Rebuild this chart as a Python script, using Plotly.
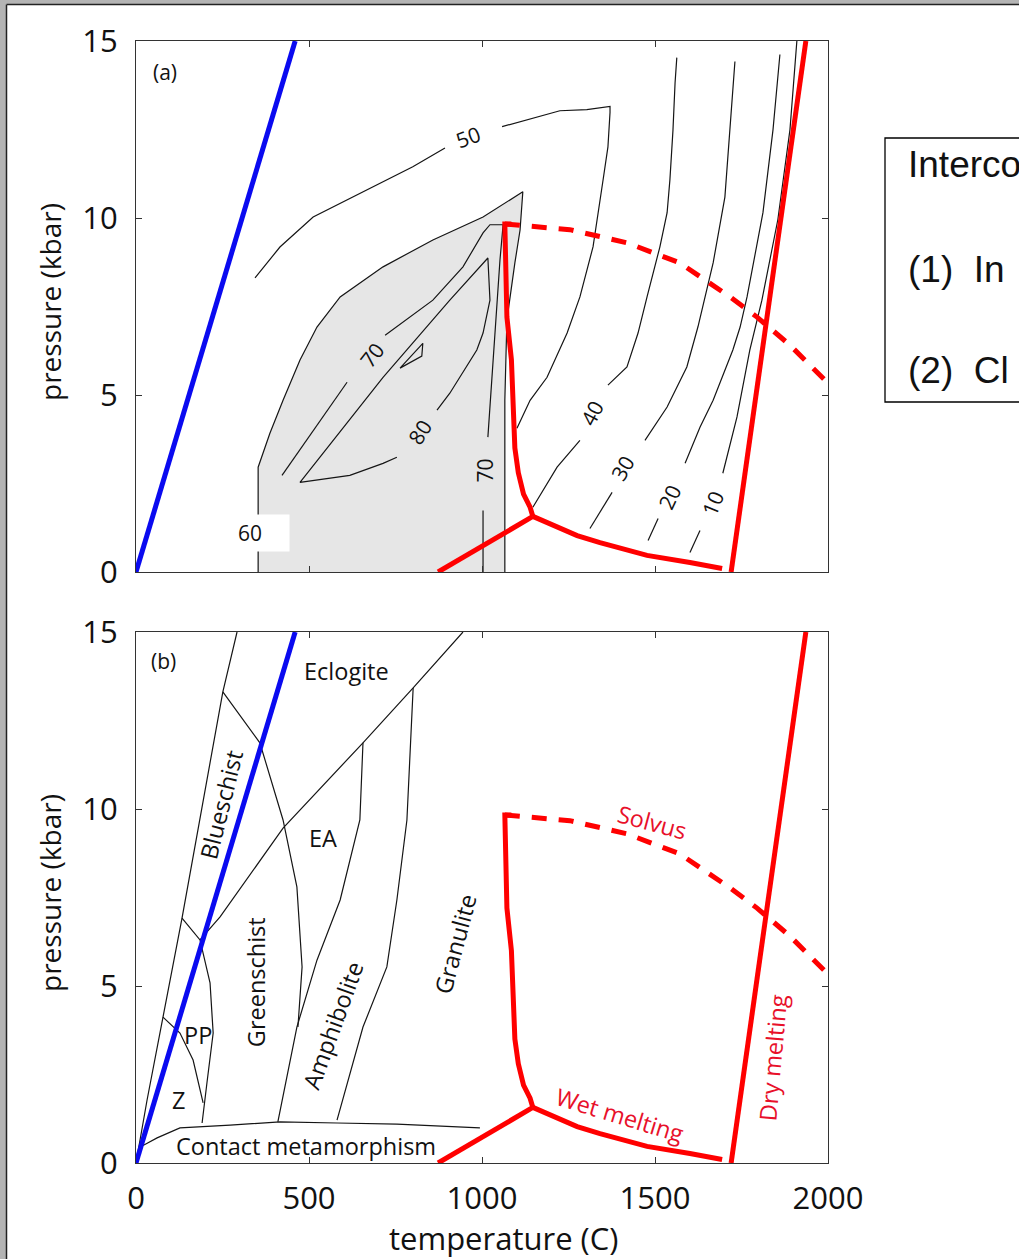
import plotly.graph_objects as go

# ---------------- data ----------------
T_TICKS = [0, 500, 1000, 1500, 2000]
P_TICKS = [0, 5, 10, 15]

# geotherm (blue)
geo_T = [0, 460]
geo_P = [0, 15]

# dry melting (red)
dry_T = [1720, 1936]
dry_P = [0, 15]

# wet melting, low-T branch below triple point
wetlow_T = [873, 1147]
wetlow_P = [0, 1.57]
# wet solidus rising from triple point
wetup_T = [1147, 1139, 1120, 1105, 1095, 1090, 1085, 1072, 1068, 1066, 1085]
wetup_P = [1.57, 1.83, 2.2, 2.8, 3.5, 4.5, 6.0, 7.2, 8.5, 9.83, 9.83]
# wet melting, high-T branch
wethi_T = [1147, 1275, 1341, 1477, 1601, 1694]
wethi_P = [1.57, 1.03, 0.83, 0.47, 0.27, 0.10]
# solvus (dashed)
solvus_T = [1066, 1254, 1419, 1572, 1717, 1795, 1890, 1991]
solvus_P = [9.83, 9.67, 9.30, 8.73, 7.77, 7.20, 6.41, 5.42]

# panel (a): shaded region bounded by the 60 contour
gray_T = [353, 353, 387, 425, 474, 523, 590, 714, 858, 1003, 1118, 1110, 1095, 1072, 1066, 1066]
gray_P = [0, 2.96, 3.92, 4.85, 5.99, 6.92, 7.77, 8.62, 9.38, 10.03, 10.74, 9.66, 8.73, 7.12, 4.85, 0]

# panel (a): contour segments (split at labels)
c50a_T = [344, 416, 512, 610, 705, 800, 893]
c50a_P = [8.31, 9.18, 10.03, 10.51, 10.99, 11.45, 11.98]
c50b_T = [1058, 1225, 1303, 1370, 1370, 1364, 1350, 1335, 1321, 1283, 1246, 1188, 1139, 1101]
c50b_P = [12.58, 13.03, 13.06, 13.15, 12.98, 12.01, 11.08, 10.15, 9.19, 7.77, 6.75, 5.50, 4.85, 4.06]
c40a_T = [1563, 1558, 1552, 1543, 1535, 1514, 1477, 1451, 1419, 1364]
c40a_P = [14.53, 13.82, 12.49, 11.07, 10.15, 9.18, 7.77, 6.75, 5.79, 5.28]
c40b_T = [1283, 1217, 1147]
c40b_P = [3.72, 2.96, 1.83]
c30a_T = [1731, 1717, 1702, 1668, 1624, 1592, 1535, 1471]
c30a_P = [14.42, 12.49, 10.59, 8.73, 6.92, 5.79, 4.66, 3.72]
c30b_T = [1376, 1312]
c30b_P = [2.25, 1.23]
c20a_T = [1861, 1841, 1812, 1766, 1746, 1725, 1668, 1630, 1587]
c20a_P = [14.62, 12.49, 10.15, 7.77, 6.92, 6.27, 4.85, 4.09, 3.07]
c20b_T = [1509, 1480]
c20b_P = [1.51, 0.89]
c10a_T = [1910, 1890, 1855, 1809, 1774, 1737, 1696]
c10a_P = [15.0, 12.49, 9.95, 7.68, 6.27, 4.38, 2.79]
c10b_T = [1630, 1601]
c10b_P = [1.17, 0.55]
c70a_T = [422, 610]
c70a_P = [2.73, 5.36]
c70b_T = [720, 858, 945, 1003, 1023, 1061, 1052, 1040, 1023, 1017]
c70b_P = [6.69, 7.68, 8.62, 9.58, 9.81, 9.81, 8.82, 7.12, 4.85, 3.81]
c70c_T = [1003, 1003]
c70c_P = [1.74, 0]
c80_T = [870, 907, 985, 1003, 1023, 1017, 907, 714, 474, 618, 714, 754]
c80_P = [4.57, 5.05, 6.27, 6.75, 7.68, 8.87, 7.68, 5.50, 2.53, 2.73, 3.07, 3.24]
csmall_T = [763, 829, 826, 763]
csmall_P = [5.76, 6.46, 6.10, 5.76]

contour_labels = ["50", "40", "30", "20", "10", "70", "80", "70", "60"]
contour_lab_T = [960, 1318, 1407, 1543, 1668, 682, 821, 1009, 367]
contour_lab_P = [12.30, 4.49, 2.93, 2.11, 1.94, 6.13, 3.95, 2.87, 1.09]
contour_lab_ang = [-20, -62, -60, -65, -68, -52, -58, -90, 0]

# panel (b): facies boundaries
bsleft_T = [0, 32, 78, 133, 251, 292]
bsleft_P = [0, 1.78, 4.12, 6.92, 13.31, 15.0]
bsecl_T = [251, 358, 425, 465, 480, 468]
bsecl_P = [13.31, 11.87, 9.69, 7.80, 5.54, 3.84]
diag_T = [185, 243, 425, 656, 801, 945]
diag_P = [6.30, 6.95, 9.46, 11.87, 13.42, 15.0]
ppgs_T = [133, 185, 214, 223, 205, 191]
ppgs_P = [6.92, 6.30, 5.09, 3.67, 2.26, 1.13]
ppz_T = [78, 127, 165, 194]
ppz_P = [4.12, 3.67, 2.91, 1.70]
contact_T = [0, 12, 61, 127, 272, 416, 581, 754, 994]
contact_P = [0, 0.45, 0.71, 0.99, 1.07, 1.16, 1.13, 1.10, 0.99]
amphL_T = [410, 465, 523, 590, 647, 656]
amphL_P = [1.16, 3.84, 5.73, 7.43, 9.69, 11.87]
amphR_T = [581, 656, 725, 754, 783, 801]
amphR_P = [1.21, 3.84, 5.54, 7.43, 9.69, 13.42]

facies_labels = ["Eclogite", "Blueschist", "EA", "Greenschist", "PP", "Z",
                 "Amphibolite", "Granulite", "Contact metamorphism"]
facies_T = [607, 246, 540, 347, 179, 124, 569, 922, 491]
facies_P = [13.9, 10.11, 9.18, 5.11, 3.62, 1.78, 3.90, 6.19, 0.48]
facies_ang = [0, -76, 0, -90, 0, 0, -70, -75, 0]

melt_labels = ["Solvus", "Wet melting", "Dry melting"]
melt_T = [1491, 1399, 1841]
melt_P = [9.63, 1.36, 2.99]
melt_ang = [15, 17, -85]

box_lines = ["Interco", "(1)  In", "(2)  Cl"]

# ---------------- figure ----------------
W, H = 1019, 1259
FONT = "Open Sans, DejaVu Sans, sans-serif"
RED = "#ff0000"
BLUE = "#0a0af0"
INK = "#151515"

fig = go.Figure()


def px_x(v):
    return v / W


def px_y(v):
    return 1 - v / H


def line(T, P, xa, ya, color=INK, width=1.2, dash=None):
    fig.add_trace(go.Scatter(x=T, y=P, xaxis=xa, yaxis=ya, mode="lines",
                             line=dict(color=color, width=width, dash=dash),
                             hoverinfo="skip", showlegend=False))


# panel (a)
fig.add_trace(go.Scatter(x=gray_T, y=gray_P, xaxis="x", yaxis="y", mode="lines",
                         fill="toself", fillcolor="#e6e6e6",
                         line=dict(color=INK, width=1.2),
                         hoverinfo="skip", showlegend=False))
for T, P in [(c50a_T, c50a_P), (c50b_T, c50b_P), (c40a_T, c40a_P), (c40b_T, c40b_P),
             (c30a_T, c30a_P), (c30b_T, c30b_P), (c20a_T, c20a_P), (c20b_T, c20b_P),
             (c10a_T, c10a_P), (c10b_T, c10b_P), (c70a_T, c70a_P), (c70b_T, c70b_P),
             (c70c_T, c70c_P), (c80_T, c80_P), (csmall_T, csmall_P)]:
    line(T, P, "x", "y")

# panel (b)
for T, P in [(bsleft_T, bsleft_P), (bsecl_T, bsecl_P), (diag_T, diag_P), (ppgs_T, ppgs_P),
             (ppz_T, ppz_P), (contact_T, contact_P), (amphL_T, amphL_P), (amphR_T, amphR_P)]:
    line(T, P, "x2", "y2")

# common geotherm and melting curves
for xa, ya in [("x", "y"), ("x2", "y2")]:
    line(geo_T, geo_P, xa, ya, color=BLUE, width=5)
    line(dry_T, dry_P, xa, ya, color=RED, width=5)
    line(wetlow_T, wetlow_P, xa, ya, color=RED, width=5)
    line(wetup_T, wetup_P, xa, ya, color=RED, width=5)
    line(wethi_T, wethi_P, xa, ya, color=RED, width=5)
    line(solvus_T, solvus_P, xa, ya, color=RED, width=5, dash="15px,12px")

annotations = []
for txt, t, p, a in zip(contour_labels, contour_lab_T, contour_lab_P, contour_lab_ang):
    ann = dict(text=txt, x=t, y=p, xref="x", yref="y", showarrow=False, textangle=a,
               xanchor="center", yanchor="middle",
               font=dict(family=FONT, size=21, color="#111"))
    if txt == "60":
        ann.update(bgcolor="white", width=50, height=34, align="left", borderpad=1)
    annotations.append(ann)

for txt, t, p, a in zip(facies_labels, facies_T, facies_P, facies_ang):
    annotations.append(dict(text=txt, x=t, y=p, xref="x2", yref="y2", showarrow=False,
                            xanchor="center", yanchor="middle",
                            textangle=a, font=dict(family=FONT, size=23.5, color="#111")))
for txt, t, p, a in zip(melt_labels, melt_T, melt_P, melt_ang):
    annotations.append(dict(text=txt, x=t, y=p, xref="x2", yref="y2", showarrow=False,
                            xanchor="center", yanchor="middle",
                            textangle=a, font=dict(family=FONT, size=23.5, color="#e8102a")))


def paper_text(txt, x, y, size, angle=0, family=FONT, xanchor="center"):
    annotations.append(dict(text=txt, x=px_x(x), y=px_y(y), xref="paper", yref="paper",
                            showarrow=False, textangle=angle, xanchor=xanchor,
                            yanchor="middle", font=dict(family=family, size=size, color="#111")))


# panel tags
paper_text("(a)", 165, 72, 21)
paper_text("(b)", 163, 661, 21)
# axis titles
paper_text("pressure (kbar)", 50, 302, 28, angle=-90)
paper_text("pressure (kbar)", 50, 893, 28, angle=-90)
paper_text("temperature (C)", 503, 1238, 31)
# side text box
for txt, yc in zip(box_lines, [165, 269, 370]):
    paper_text(txt, 906, yc, 37, family="Liberation Sans, Arial, sans-serif", xanchor="left")

bx0, by0, by1 = px_x(885), px_y(402), px_y(138)
shapes = [
    dict(type="path", xref="paper", yref="paper",
         path=f"M 1,{by1} L {bx0},{by1} L {bx0},{by0} L 1,{by0}",
         line=dict(color="#000", width=1.3)),
    # screenshot frame
    dict(type="rect", xref="paper", yref="paper", x0=0, x1=px_x(6), y0=0, y1=1,
         fillcolor="#b4b4b4", line=dict(width=0)),
    dict(type="rect", xref="paper", yref="paper", x0=0, x1=1, y0=px_y(4), y1=1,
         fillcolor="#b4b4b4", line=dict(width=0)),
    dict(type="line", xref="paper", yref="paper", x0=px_x(6.5), x1=px_x(6.5), y0=0,
         y1=px_y(4.5), line=dict(color="#222", width=1.5)),
    dict(type="line", xref="paper", yref="paper", x0=px_x(6.5), x1=1, y0=px_y(4.5),
         y1=px_y(4.5), line=dict(color="#222", width=1.5)),
]

xdom = [px_x(136), px_x(828)]
axis_common = dict(range=[0, 2000], showline=True, linecolor="#333", linewidth=1.3,
                   mirror="ticks", ticks="inside", ticklen=6, tickcolor="#333",
                   showgrid=False, zeroline=False, tickvals=T_TICKS, automargin=False,
                   tickfont=dict(family=FONT, size=31, color="#111"))
yaxis_common = dict(range=[0, 15], showline=True, linecolor="#333", linewidth=1.3,
                    mirror="ticks", ticks="inside", ticklen=6, tickcolor="#333",
                    showgrid=False, zeroline=False, tickvals=P_TICKS, automargin=False,
                    tickfont=dict(family=FONT, size=31, color="#111"),
                    ticklabelstandoff=11)

fig.update_layout(
    width=W, height=H, margin=dict(l=0, r=0, t=0, b=0, autoexpand=False),
    paper_bgcolor="white", plot_bgcolor="white", showlegend=False,
    xaxis=dict(domain=xdom, anchor="y", showticklabels=False, **axis_common),
    yaxis=dict(domain=[px_y(572), px_y(41)], anchor="x", **yaxis_common),
    xaxis2=dict(domain=xdom, anchor="y2", showticklabels=True, ticklabelstandoff=8,
                **axis_common),
    yaxis2=dict(domain=[px_y(1163), px_y(632)], anchor="x2", **yaxis_common),
    annotations=annotations, shapes=shapes,
)

fig.write_html("out.html", config={"displayModeBar": False},
               post_script="document.body.style.margin='0';document.body.style.overflow='hidden';")
